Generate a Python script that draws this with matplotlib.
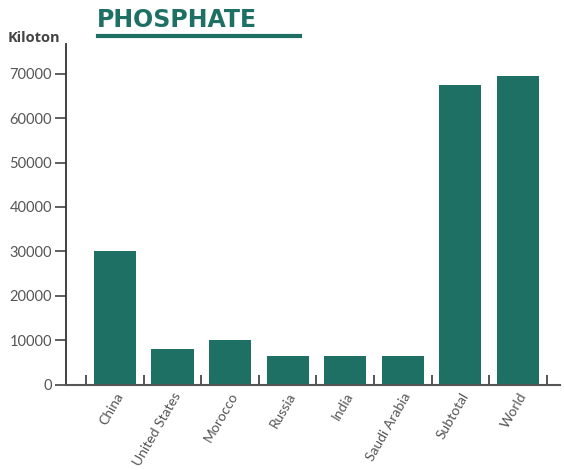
import numpy as np
from matplotlib import pyplot as plt
from matplotlib.lines import Line2D


categories = ['China', 'United States', 'Morocco', 'Russia', 'India',
              'Saudi Arabia', 'Subtotal', 'World']
production = [30000, 8000, 10200, 6600, 6600, 6600, 67500, 69500]
y_ticks = [0, 10000, 20000, 30000, 40000, 50000, 60000, 70000]

bar_color = '#1e7065'
text_grey = '#555555'


def plot_phosphate():
    plt.rcParams['font.family'] = ['Lato', 'DejaVu Sans']

    fig = plt.figure(figsize=(5.64, 4.70), dpi=100)
    ax = fig.add_axes([0.117, 0.181, 0.876, 0.725])

    x = np.arange(len(categories))
    ax.bar(x, production, width=0.73, color=bar_color, zorder=2)

    ax.set_xlim(-0.85, 7.73)
    ax.set_ylim(0, 76600)

    # y axis
    ax.set_yticks(y_ticks)
    ax.set_yticklabels([str(v) for v in y_ticks], color=text_grey, fontsize=10.5)
    ax.tick_params(axis='y', direction='out', length=8, width=1.2,
                   color='#444444', pad=2)

    # x axis: labels at bar centres, small ticks between bars
    ax.set_xticks(x)
    ax.set_xticklabels(categories, rotation=60, ha='right',
                       rotation_mode='anchor', color=text_grey, fontsize=10)
    ax.tick_params(axis='x', which='major', length=0, pad=4)
    ax.set_xticks(np.arange(-0.5, len(categories)), minor=True)
    ax.tick_params(axis='x', which='minor', direction='in', length=7.5,
                   width=1.4, color='#555555')

    for side in ['top', 'right']:
        ax.spines[side].set_visible(False)
    ax.spines['left'].set_color('#333333')
    ax.spines['left'].set_linewidth(1.3)
    ax.spines['bottom'].set_color('#555555')
    ax.spines['bottom'].set_linewidth(1.5)

    # title with underline
    fig.text(97 / 564, 1 - 20 / 470, 'PHOSPHATE', fontsize=17, fontweight='bold',
             color=bar_color, family=['DejaVu Sans'], va='center', ha='left')
    fig.add_artist(Line2D([98 / 564, 300 / 564], [1 - 35.5 / 470, 1 - 35.5 / 470],
                          color=bar_color, linewidth=3, transform=fig.transFigure))

    fig.text(8 / 564, 1 - 38 / 470, 'Kiloton', fontsize=10.5, fontweight='bold',
             color='#444444', family=['Open Sans', 'DejaVu Sans'], va='center', ha='left')

    plt.savefig('out.png', dpi=100)
    plt.close()


def main():
    plot_phosphate()


if __name__ == '__main__':
    main()
